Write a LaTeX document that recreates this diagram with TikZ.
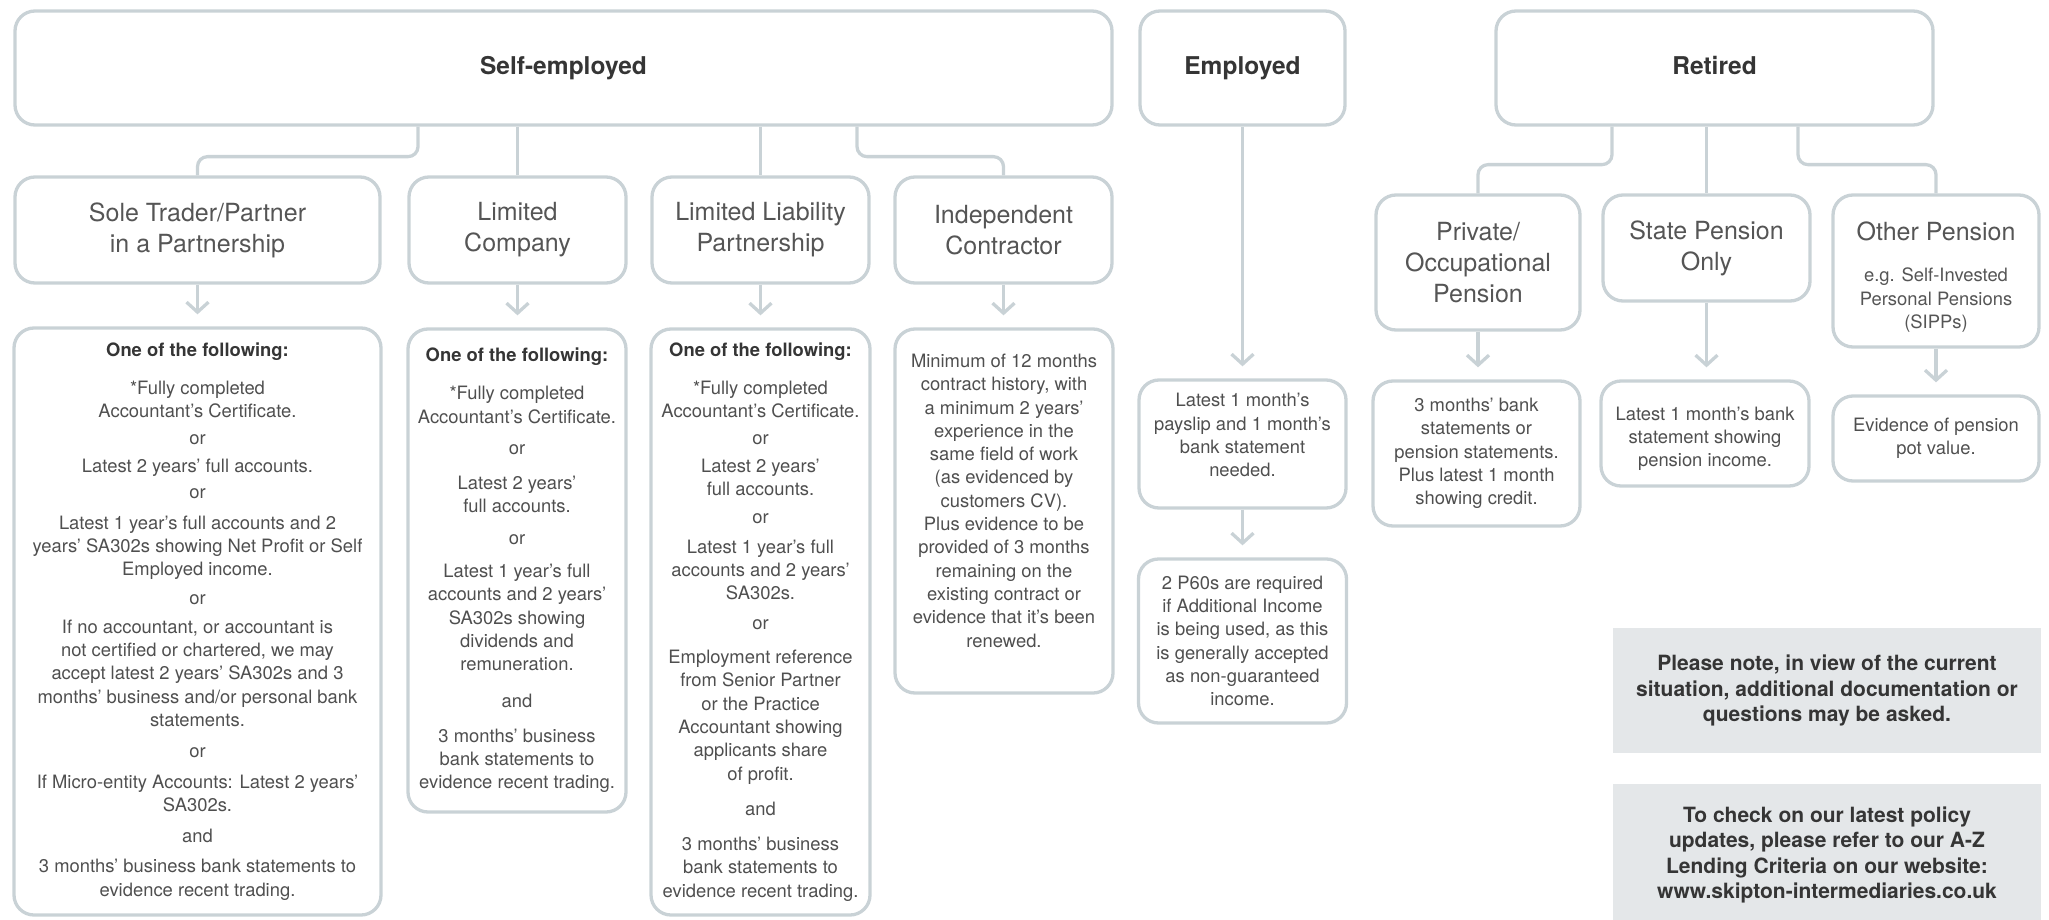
\documentclass[tikz,border=0pt]{standalone}
\usepackage{fontspec}
\setmainfont{TeX Gyre Heros}
\usetikzlibrary{arrows.meta}

\definecolor{boxline}{HTML}{C9D2D6}
\definecolor{notefill}{HTML}{E4E7E9}
\definecolor{headtext}{HTML}{353535}
\definecolor{bodytext}{HTML}{4F4F4F}
\definecolor{titletext}{HTML}{555555}

\newcommand{\hdrfont}{\fontsize{24.5}{29}\selectfont\bfseries}
\newcommand{\ttlfont}{\fontsize{25}{31}\selectfont}
\newcommand{\docfont}{\fontsize{18.4}{23.3}\selectfont}
\newcommand{\ntfont}{\fontsize{21}{25.5}\selectfont\bfseries}

\begin{document}
\begin{tikzpicture}[x=1pt, y=-1pt,
  box/.style={draw=boxline, line width=3.3pt, rounded corners=20pt,
    text=bodytext, align=center, inner sep=0pt},
  headbox/.style={box, text=headtext, font=\hdrfont, minimum height=114pt,
    text height=18pt, text depth=5pt},
  titlebox/.style={box, text=titletext, font=\ttlfont},
  docbox/.style={box, font=\docfont},
  notebox/.style={fill=notefill, text=headtext, font=\ntfont, align=center,
    inner sep=0pt, minimum width=428pt},
  link/.style={draw=boxline, line width=3.3pt, rounded corners=10pt},
  docarrow/.style={link, -{Straight Barb[length=10pt,width=22pt]}, shorten >=12pt}]
\useasboundingbox (0,0) rectangle (2049,920);
% Top row: the three kinds of applicant
\node[headbox, minimum width=1097pt] (selfemp) at (563.5,68) {Self-employed};
\node[headbox, minimum width=205pt] (employed) at (1242.5,68) {Employed};
\node[headbox, minimum width=437pt] (retired) at (1714.5,68) {Retired};
% Self-employed types
\node[titlebox, minimum width=365pt, minimum height=106pt] (soletrader) at (197.5,230) {Sole Trader/Partner\\in a Partnership};
\node[titlebox, minimum width=217pt, minimum height=106pt] (limitedco) at (517.5,230) {Limited\\Company};
\node[titlebox, minimum width=217pt, minimum height=106pt] (llp) at (760.5,230) {Limited Liability\\Partnership};
\node[titlebox, minimum width=217pt, minimum height=106pt] (contractor) at (1003.5,230) {Independent\\Contractor};
% Retired types
\node[titlebox, minimum width=204pt, minimum height=135pt] (private) at (1478,262.5) {Private/\\Occupational\\Pension};
\node[titlebox, minimum width=207pt, minimum height=106pt] (statepension) at (1706.5,248) {State Pension\\Only};
\node[titlebox, font=\docfont, minimum width=206pt, minimum height=152pt] (otherpension) at (1936,271) {{\ttlfont\rule{0pt}{31pt}Other Pension}\\[18pt]e.g. Self-Invested\\Personal Pensions\\(SIPPs)};
% Documents for the self-employed
\node[docbox, minimum width=367pt, minimum height=587pt] (soledocs) at (197.5,621.5) {{\bfseries\color{headtext}One of the following:}\\[14.7pt]
  {*}Fully completed\\Accountant's Certificate.\\[3pt]
  or\\[5pt]
  Latest 2 years' full accounts.\\[3pt]
  or\\[7pt]
  Latest 1 year's full accounts and 2\\years' SA302s showing Net Profit or Self\\Employed income.\\[6pt]
  or\\[5pt]
  If no accountant, or accountant is\\not certified or chartered, we may\\accept latest 2 years' SA302s and 3\\months' business and/or personal bank\\statements.\\[8pt]
  or\\[7pt]
  If Micro-entity Accounts: Latest 2 years'\\SA302s.\\[8pt]
  and\\[7pt]
  3 months' business bank statements to\\evidence recent trading.};
\node[docbox, minimum width=218pt, minimum height=483pt] (limdocs) at (517,570.5) {{\bfseries\color{headtext}One of the following:}\\[14.7pt]
  {*}Fully completed\\Accountant's Certificate.\\[8pt]
  or\\[12pt]
  Latest 2 years'\\full accounts.\\[8pt]
  or\\[10pt]
  Latest 1 year's full\\accounts and 2 years'\\SA302s showing\\dividends and\\remuneration.\\[13pt]
  and\\[12pt]
  3 months' business\\bank statements to\\evidence recent trading.};
\node[docbox, minimum width=219pt, minimum height=586pt] (llpdocs) at (760.5,622) {{\bfseries\color{headtext}One of the following:}\\[14.7pt]
  {*}Fully completed\\Accountant's Certificate.\\[3pt]
  or\\[5pt]
  Latest 2 years'\\full accounts.\\[4pt]
  or\\[7pt]
  Latest 1 year's full\\accounts and 2 years'\\SA302s.\\[6pt]
  or\\[11pt]
  Employment reference\\from Senior Partner\\or the Practice\\Accountant showing\\applicants share\\of profit.\\[12pt]
  and\\[12pt]
  3 months' business\\bank statements to\\evidence recent trading.};
\node[docbox, minimum width=218pt, minimum height=364pt] (condocs) at (1004,511) {Minimum of 12 months\\contract history, with\\a minimum 2 years'\\experience in the\\same field of work\\(as evidenced by\\customers CV).\\Plus evidence to be\\provided of 3 months\\remaining on the\\existing contract or\\evidence that it's been\\renewed.\rule[-21pt]{0pt}{0pt}};
% Documents for the employed
\node[docbox, minimum width=207pt, minimum height=128pt] (empdocs) at (1242.5,444) {Latest 1 month's\\payslip and 1 month's\\bank statement\\needed.\rule[-18pt]{0pt}{0pt}};
\node[docbox, minimum width=208pt, minimum height=164pt] (p60docs) at (1242.5,641) {2 P60s are required\\if Additional Income\\is being used, as this\\is generally accepted\\as non-guaranteed\\income.};
% Documents for the retired
\node[docbox, minimum width=207pt, minimum height=145pt] (privdocs) at (1476.5,453.5) {3 months' bank\\statements or\\pension statements.\\Plus latest 1 month\\showing credit.};
\node[docbox, minimum width=208pt, minimum height=105pt] (statedocs) at (1705,433.5) {\rule{0pt}{24pt}Latest 1 month's bank\\statement showing\\pension income.};
\node[docbox, minimum width=206pt, minimum height=85pt] (otherdocs) at (1936,438.5) {Evidence of pension\\pot value.};
% Grey notes at the lower right
\node[notebox, minimum height=125pt] (note1) at (1827,690.5) {Please note, in view of the current\\situation, additional documentation or\\questions may be asked.};
\node[notebox, minimum height=142pt] (note2) at (1827,855) {To check on our latest policy\\updates, please refer to our A-Z\\Lending Criteria on our website:\\www.skipton-intermediaries.co.uk};
% Branches from the top row
\coordinate (selfleft) at ([xshift=-145.5pt]selfemp.south);
\coordinate (selfright) at ([xshift=293.5pt]selfemp.south);
\coordinate (retleft) at ([xshift=-102.5pt]retired.south);
\coordinate (retright) at ([xshift=83.5pt]retired.south);
\draw[link] (selfleft) -- ++(0,30) -| (soletrader.north);
\draw[link] (limitedco.north |- selfemp.south) -- (limitedco.north);
\draw[link] (llp.north |- selfemp.south) -- (llp.north);
\draw[link] (selfright) -- ++(0,30) -| (contractor.north);
\draw[link] (retleft) -- ++(0,38) -| (private.north);
\draw[link] (statepension.north |- retired.south) -- (statepension.north);
\draw[link] (retright) -- ++(0,38) -| (otherpension.north);
% Arrows down to the documents
\foreach \src/\dst in {soletrader/soledocs, limitedco/limdocs, llp/llpdocs, contractor/condocs,
  employed/empdocs, empdocs/p60docs, private/privdocs, statepension/statedocs, otherpension/otherdocs}
  \draw[docarrow] (\src.south) -- (\src.south |- \dst.north);
\end{tikzpicture}
\end{document}
